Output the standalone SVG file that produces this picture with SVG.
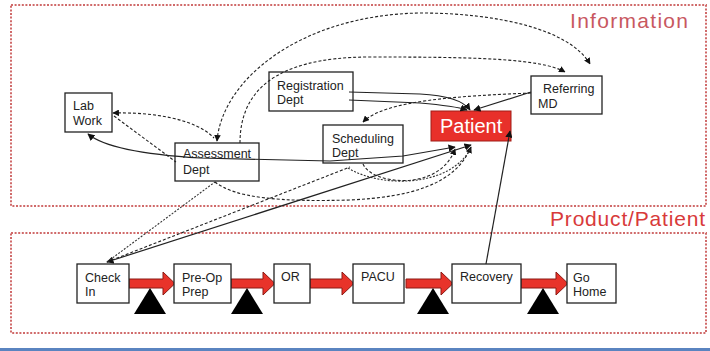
<svg xmlns="http://www.w3.org/2000/svg" width="710" height="351" viewBox="0 0 710 351">
<defs>
<style>
.frame{fill:none;stroke:#d06a6a;stroke-width:2;stroke-dasharray:2 1.6}
.title{font-family:"Liberation Sans",Arial,sans-serif;font-size:21px}
.box rect{fill:#fff;stroke:#222;stroke-width:1.3}
.box text{font-family:"Liberation Sans",Arial,sans-serif;font-size:12.5px;fill:#222}
.solid{fill:none;stroke:#222;stroke-width:1.2}
.dash{fill:none;stroke:#222;stroke-width:1.1;stroke-dasharray:3 2}
.dot{fill:none;stroke:#333;stroke-width:1.1;stroke-dasharray:2 1.5}
.flow{fill:#e8332a;stroke:#8b1a14;stroke-width:1}
.stop{fill:#000}
</style>
<marker id="ah" viewBox="0 0 10 10" refX="9" refY="5" markerWidth="6" markerHeight="6" orient="auto-start-reverse">
<path d="M0,0 L10,5 L0,10 z" fill="#111"/>
</marker>
</defs>
<rect width="710" height="351" fill="#fff"/>

<!-- swimlane frames -->
<g id="lanes">
<rect class="frame" x="11" y="5" width="695" height="201"/>
<text class="title" x="570" y="28" fill="#c8585f" textLength="118">Information</text>
<rect class="frame" x="11" y="233" width="695" height="100"/>
<text class="title" x="550" y="226" fill="#d83a3a" textLength="155">Product/Patient</text>
</g>

<!-- information nodes -->
<g id="lab-work" class="box">
<rect x="65" y="93" width="47" height="39"/>
<text x="73" y="110">Lab</text>
<text x="73" y="125">Work</text>
</g>
<g id="assessment-dept" class="box">
<rect x="175" y="143" width="84" height="38"/>
<text x="183" y="158">Assessment</text>
<text x="183" y="174">Dept</text>
</g>
<g id="registration-dept" class="box">
<rect x="269" y="72" width="84" height="39"/>
<text x="277" y="90">Registration</text>
<text x="277" y="104">Dept</text>
</g>
<g id="scheduling-dept" class="box">
<rect x="323" y="125" width="80" height="38"/>
<text x="332" y="143">Scheduling</text>
<text x="332" y="157">Dept</text>
</g>
<g id="patient">
<rect x="431" y="111" width="80" height="30" fill="#e8302a" stroke="#a01c16" stroke-width="1"/>
<text x="440" y="133" font-family="'Liberation Sans',Arial,sans-serif" font-size="20" fill="#fff">Patient</text>
</g>
<g id="referring-md" class="box">
<rect x="531" y="76" width="71" height="38"/>
<text x="543" y="93">Referring</text>
<text x="538" y="108">MD</text>
</g>

<!-- product flow: pushes and waits -->
<g id="flow-arrows">
<polygon class="flow" points="129,279 163,279 163,272 175,283.5 163,295 163,288 129,288"/>
<polygon class="flow" points="231,279 263,279 263,272 275,283.5 263,295 263,288 231,288"/>
<polygon class="flow" points="310,279 342,279 342,272 354,283.5 342,295 342,288 310,288"/>
<polygon class="flow" points="406,279 441,279 441,272 453,283.5 441,295 441,288 406,288"/>
<polygon class="flow" points="521,279 556,279 556,272 568,283.5 556,295 556,288 521,288"/>
</g>
<g id="queues">
<polygon class="stop" points="134,314 150,288 166,314"/>
<polygon class="stop" points="231,314 247,288 263,314"/>
<polygon class="stop" points="417,314 433,288 449,314"/>
<polygon class="stop" points="527,314 543,288 559,314"/>
</g>

<g id="check-in" class="box">
<rect x="77" y="264" width="52" height="39"/>
<text x="85" y="282">Check</text>
<text x="85" y="296">In</text>
</g>
<g id="pre-op-prep" class="box">
<rect x="174" y="264" width="57" height="39"/>
<text x="182" y="282">Pre-Op</text>
<text x="182" y="296">Prep</text>
</g>
<g id="or" class="box">
<rect x="274" y="264" width="36" height="39"/>
<text x="281" y="281">OR</text>
</g>
<g id="pacu" class="box">
<rect x="353" y="264" width="51" height="39"/>
<text x="361" y="281">PACU</text>
</g>
<g id="recovery" class="box">
<rect x="452" y="264" width="69" height="39"/>
<text x="460" y="281">Recovery</text>
</g>
<g id="go-home" class="box">
<rect x="567" y="264" width="49" height="39"/>
<text x="573" y="282">Go</text>
<text x="573" y="296">Home</text>
</g>

<!-- connectors, drawn over the boxes they cross -->
<g id="connectors">
<path class="dash" d="M217,141 C222,80 300,15 420,13 C500,13 570,30 590,64" marker-start="url(#ah)" marker-end="url(#ah)"/>
<path class="dash" d="M240,143 C240,95 270,57 370,57 C470,57 540,58 565,72" marker-end="url(#ah)"/>
<path class="dash" d="M113,113 C150,112 195,118 214,138" marker-start="url(#ah)"/>
<path class="dash" d="M114,116 L176,162"/>
<path class="solid" d="M88,134 C105,148 150,155 200,158 L330,161 L403,156 L455,147" marker-start="url(#ah)" marker-end="url(#ah)"/>
<path class="solid" d="M349,92 L420,94 Q460,96 470,110" marker-end="url(#ah)"/>
<path class="solid" d="M349,100 L420,103 Q455,106 467,110" marker-end="url(#ah)"/>
<path class="solid" d="M531,92 L474,110" marker-end="url(#ah)"/>
<path class="dash" d="M531,93 C460,96 385,100 363,122" marker-end="url(#ah)"/>
<path class="solid" d="M486,264 L510,131" marker-end="url(#ah)"/>
<path class="solid" d="M107,262 L471,145" marker-start="url(#ah)" marker-end="url(#ah)"/>
<path class="dot" d="M107,262 L215,182"/>
<path class="dash" d="M107,262 L350,167"/>
<path class="dash" d="M215,182 C235,198 280,202 350,200 C410,197 455,185 471,147" marker-end="url(#ah)"/>
<path class="dash" d="M363,164 C372,185 440,192 455,149" marker-end="url(#ah)"/>
<path class="dot" d="M348,168 C380,188 450,188 471,148"/>
</g>

<rect x="0" y="348" width="710" height="3" fill="#5a84c0"/>
</svg>
